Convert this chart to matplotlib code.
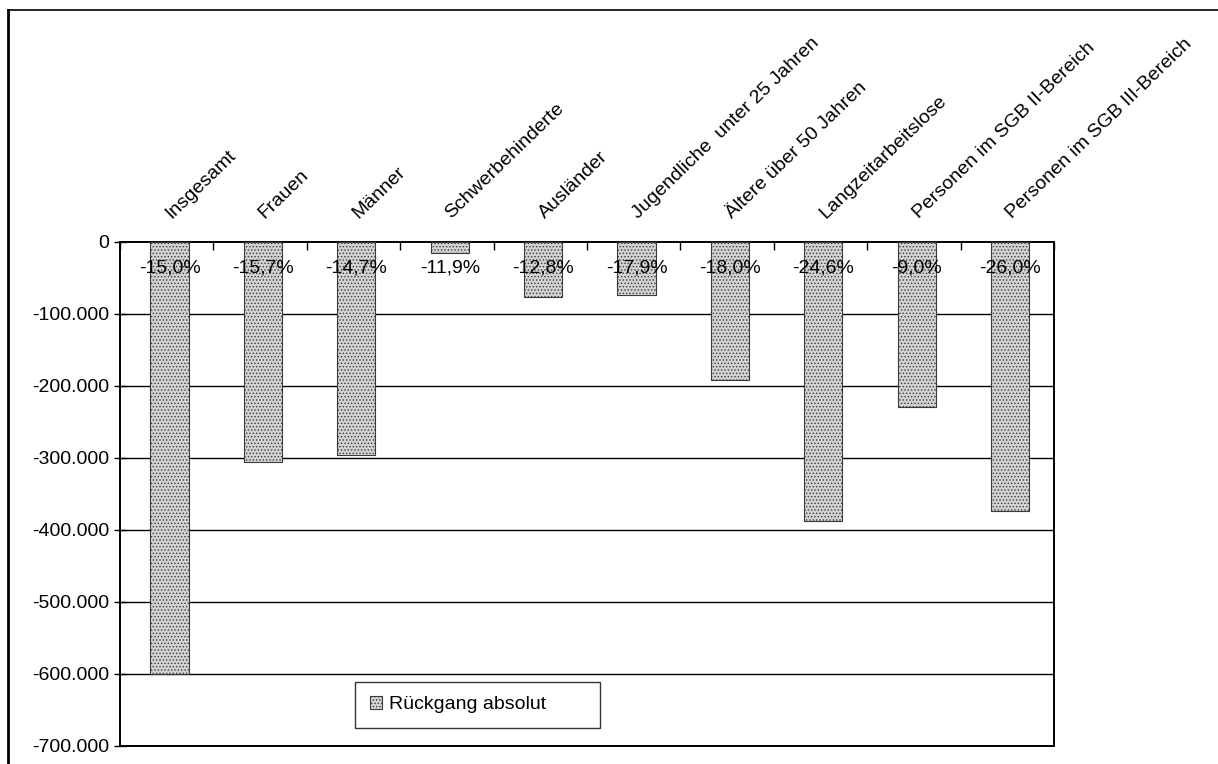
import matplotlib
matplotlib.use("Agg")
import matplotlib.pyplot as plt
from matplotlib.lines import Line2D
from matplotlib.ticker import FuncFormatter, FixedLocator
import numpy as np

plt.rcParams['font.family'] = ['Liberation Sans', 'DejaVu Sans']
plt.rcParams['hatch.linewidth'] = 0.6

categories = ["Insgesamt", "Frauen", "Männer", "Schwerbehinderte", "Ausländer",
              "Jugendliche  unter 25 Jahren", "Ältere über 50 Jahren",
              "Langzeitarbeitslose", "Personen im SGB II-Bereich",
              "Personen im SGB III-Bereich"]
values = [-600000, -306000, -296000, -15500, -77000, -74000, -192000,
          -387000, -229000, -374000]
percent_labels = ["-15,0%", "-15,7%", "-14,7%", "-11,9%", "-12,8%",
                  "-17,9%", "-18,0%", "-24,6%", "-9,0%", "-26,0%"]
yticks = [0, -100000, -200000, -300000, -400000, -500000, -600000, -700000]
legend_label = "Rückgang absolut"

W, H = 1218, 764
fig = plt.figure(figsize=(W / 100, H / 100), dpi=100)
ax = fig.add_axes([120 / W, 1 - 746 / H, (1054 - 120) / W, (746 - 242) / H])

x = np.arange(len(categories))
ax.bar(x + 0.03, values, width=0.41, color="#d2d2d2", edgecolor="#3a3a3a",
       hatch=".....", linewidth=0.8, label=legend_label, zorder=3)

ax.set_xlim(-0.5, len(categories) - 0.5)
ax.set_ylim(-700000, 0)
ax.yaxis.set_major_locator(FixedLocator(yticks))
ax.yaxis.set_major_formatter(FuncFormatter(
    lambda v, p: "0" if v == 0 else f"{int(v):,}".replace(",", ".")))
ax.tick_params(axis="y", labelsize=14, length=8, width=1, direction="inout", pad=4)

# horizontal gridlines
for yv in yticks[1:-1]:
    ax.axhline(yv, color="black", linewidth=1.0, zorder=1)

# category boundary ticks on the zero line
ax.set_xticks(np.arange(len(categories) + 1) - 0.5)
ax.set_xticklabels([])
ax.tick_params(axis="x", bottom=False, top=True, direction="in", length=6, width=1)

for s in ax.spines.values():
    s.set_linewidth(1.4)
    s.set_color("black")

# percentage labels
for xi, lab in zip(x, percent_labels):
    ax.text(xi + 0.03, -36000, lab, ha="center", va="center", fontsize=14,
            zorder=5)

# rotated category labels above plot
trans = ax.get_xaxis_transform()
for xi, cat in zip(x, categories):
    ax.text(xi + 0.08, 1.04, cat, transform=trans, rotation=44,
            rotation_mode="anchor", ha="left", va="bottom", fontsize=14,
            clip_on=False)

leg = ax.legend(loc="lower left", bbox_to_anchor=(0.252, 0.036, 0.262, 0.103),
                mode="expand", frameon=True, fancybox=False, fontsize=14,
                handlelength=0.6, handleheight=0.6, handletextpad=0.4,
                borderpad=0.75, borderaxespad=0)
leg.get_frame().set_edgecolor("black")
leg.get_frame().set_linewidth(1.0)

# outer frame of the figure
fig.add_artist(Line2D([8 / W, 8 / W], [0, 1 - 10 / H], transform=fig.transFigure,
                      color="black", linewidth=2))
fig.add_artist(Line2D([8 / W, 1.0], [1 - 10 / H, 1 - 10 / H],
                      transform=fig.transFigure, color="black", linewidth=1.2))

fig.savefig("out.png", dpi=100)
